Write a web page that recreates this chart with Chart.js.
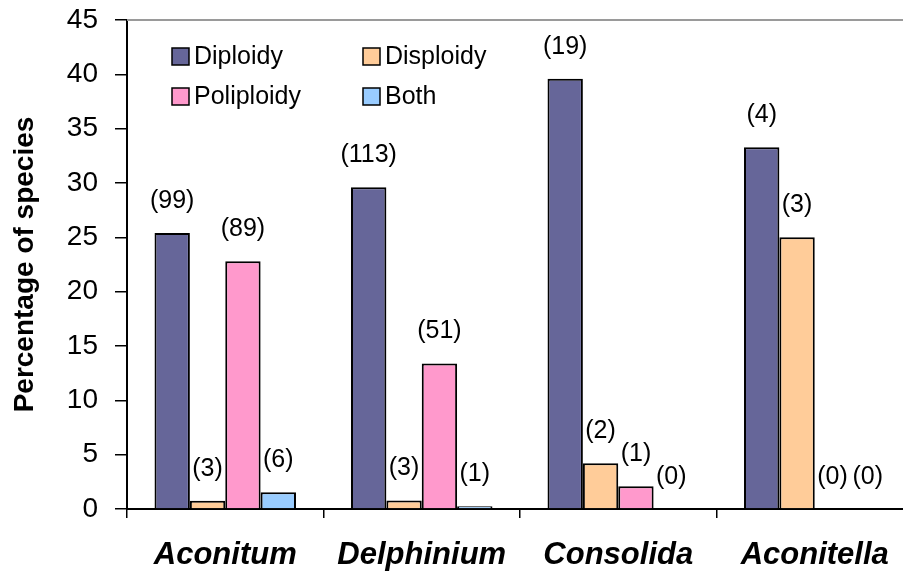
<!DOCTYPE html>
<html>
<head>
<meta charset="utf-8">
<script src="https://cdn.jsdelivr.net/npm/chart.js@4.4.1/dist/chart.umd.min.js"></script>
<style>
  html, body { margin: 0; padding: 0; background: #fff; overflow: hidden; }
  #wrap { position: absolute; left: 0; top: 0; }
</style>
</head>
<body>
<div id="wrap"><canvas id="myChart" width="920" height="573"></canvas></div>
<script>
// genera and values (percentage of species)
var categories = ['Aconitum', 'Delphinium', 'Consolida', 'Aconitella'];
var diploidy   = [25.4, 29.6, 39.6, 33.3];
var disploidy  = [0.77, 0.79, 4.2, 25.0];
var poliploidy = [22.8, 13.4, 2.1, 0];
var both       = [1.54, 0.26, 0, 0];
// number of species shown over each bar
var diploidyN   = [99, 113, 19, 4];
var disploidyN  = [3, 3, 2, 3];
var poliploidyN = [89, 51, 1, 0];
var bothN       = [6, 1, 0, 0];
var yTicks = [0, 5, 10, 15, 20, 25, 30, 35, 40, 45];

var FONT = "Arial, 'Liberation Sans', sans-serif";

document.addEventListener('DOMContentLoaded', function () {
    var counts = [diploidyN, disploidyN, poliploidyN, bothN];

    // top frame line, count labels and the legend inside the plot
    var extras = {
        id: 'extras',
        afterDatasetsDraw: function (chart) {
            var ctx = chart.ctx;
            var area = chart.chartArea;
            ctx.save();
            ctx.strokeStyle = '#9a9a9a';
            ctx.lineWidth = 2;
            ctx.beginPath();
            ctx.moveTo(area.left, area.top);
            ctx.lineTo(area.right, area.top);
            ctx.stroke();

            ctx.fillStyle = '#000';
            ctx.font = '25px ' + FONT;
            ctx.textAlign = 'center';
            ctx.textBaseline = 'middle';
            chart.data.datasets.forEach(function (ds, d) {
                var meta = chart.getDatasetMeta(d);
                meta.data.forEach(function (bar, i) {
                    ctx.fillText('(' + counts[d][i] + ')', bar.x, bar.y - 32);
                });
            });

            // legend, two columns by two rows
            var spots = [[45, 28], [236, 28], [45, 68], [236, 68]];
            chart.data.datasets.forEach(function (ds, d) {
                var bx = area.left + spots[d][0];
                var by = area.top + spots[d][1];
                ctx.fillStyle = ds.backgroundColor;
                ctx.fillRect(bx, by, 17, 17);
                ctx.strokeStyle = '#000';
                ctx.lineWidth = 1.5;
                ctx.strokeRect(bx, by, 17, 17);
                ctx.fillStyle = '#000';
                ctx.textAlign = 'left';
                ctx.fillText(ds.label, bx + 22, by + 9);
            });
            ctx.restore();
        }
    };

    var ctx = document.getElementById('myChart').getContext('2d');
    var myChart = new Chart(ctx, {
        type: 'bar',
        data: {
            labels: categories,
            datasets: [{
                label: 'Diploidy',
                data: diploidy,
                backgroundColor: '#666699'
            }, {
                label: 'Disploidy',
                data: disploidy,
                backgroundColor: '#FFCC99'
            }, {
                label: 'Poliploidy',
                data: poliploidy,
                backgroundColor: '#FF99CC'
            }, {
                label: 'Both',
                data: both,
                backgroundColor: '#99CCFF'
            }]
        },
        options: {
            responsive: false,
            animation: false,
            layout: { padding: { top: 20, right: 7, left: 0, bottom: 0 } },
            datasets: {
                bar: {
                    borderColor: '#000',
                    borderWidth: 2,
                    barPercentage: 1,
                    categoryPercentage: 0.72
                }
            },
            plugins: {
                legend: { display: false },
                tooltip: { enabled: false }
            },
            scales: {
                x: {
                    grid: {
                        drawOnChartArea: false,
                        drawTicks: true,
                        tickLength: 9,
                        color: '#000',
                        lineWidth: 1.5
                    },
                    border: { color: '#000', width: 2 },
                    ticks: {
                        color: '#000',
                        padding: 19,
                        font: { family: FONT, size: 31, weight: 'bold', style: 'italic' }
                    },
                    afterFit: function (scale) {
                        scale.height = 64;
                        scale.paddingLeft = 0;
                        scale.paddingRight = 0;
                    }
                },
                y: {
                    min: 0,
                    max: 45,
                    afterBuildTicks: function (scale) {
                        scale.ticks = yTicks.map(function (v) { return { value: v }; });
                    },
                    grid: {
                        drawOnChartArea: false,
                        drawTicks: true,
                        tickLength: 12,
                        color: '#000',
                        lineWidth: 1.5
                    },
                    border: { color: '#000', width: 2 },
                    ticks: {
                        color: '#000',
                        padding: 17,
                        font: { family: FONT, size: 28 }
                    },
                    title: {
                        display: true,
                        text: 'Percentage of species',
                        color: '#000',
                        padding: { top: 8, bottom: 0 },
                        font: { family: FONT, size: 28, weight: 'bold' }
                    },
                    afterFit: function (scale) {
                        scale.width = 127;
                        scale.paddingTop = 0;
                        scale.paddingBottom = 0;
                    }
                }
            }
        },
        plugins: [extras]
    });
});
</script>
</body>
</html>
